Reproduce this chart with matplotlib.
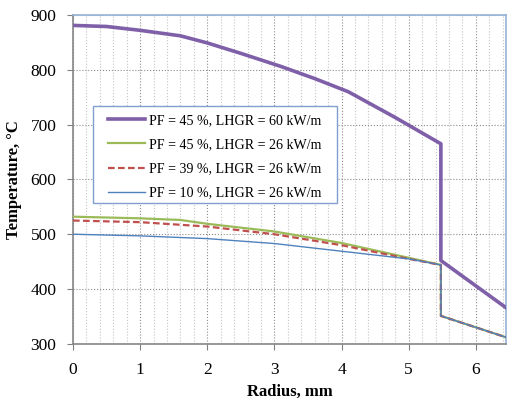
import numpy as np
import matplotlib
matplotlib.use('Agg')
import matplotlib.pyplot as plt
from matplotlib.patches import Rectangle
from matplotlib.ticker import MultipleLocator

plt.rcParams['font.family'] = 'Liberation Serif'

# PF = 45 %, LHGR = 60 kW/m
r_60 = [0, 0.5, 1.0, 1.6, 2.0, 2.5, 3.1, 3.6, 4.1, 4.8, 5.48, 5.48, 6.45]
t_60 = [881, 879, 872, 862, 849, 830, 806, 784, 760, 713, 665, 452, 366]

# PF = 45 %, LHGR = 26 kW/m
r_45 = [0, 1.0, 1.6, 2.0, 3.0, 4.0, 5.0, 5.48, 5.48, 6.45]
t_45 = [532, 529, 526, 519, 505, 484, 457, 444, 351, 312]

# PF = 39 %, LHGR = 26 kW/m
r_39 = [0, 1.0, 2.0, 3.0, 4.0, 5.0, 5.48, 5.48, 6.45]
t_39 = [525, 522, 514, 500, 480, 455, 444, 351, 312]

# PF = 10 %, LHGR = 26 kW/m
r_10 = [0, 1.0, 2.0, 3.0, 4.0, 5.0, 5.48, 5.48, 6.45]
t_10 = [500, 497, 492, 483, 469, 455, 444, 351, 312]

labels = ['PF = 45 %, LHGR = 60 kW/m', 'PF = 45 %, LHGR = 26 kW/m',
          'PF = 39 %, LHGR = 26 kW/m', 'PF = 10 %, LHGR = 26 kW/m']

fig = plt.figure(figsize=(5.07, 4.05), dpi=100)
ax = fig.add_axes([0.144, 0.151, 0.854, 0.812])

ax.plot(r_60, t_60, color='#7F60A8', lw=2.6, label=labels[0], zorder=5)
ax.plot(r_45, t_45, color='#9BBB59', lw=1.6, label=labels[1], zorder=4)
ax.plot(r_39, t_39, color='#C0504D', lw=1.6, ls=(0, (3, 1.5)), label=labels[2], zorder=4)
ax.plot(r_10, t_10, color='#4F81BD', lw=1.0, label=labels[3], zorder=4)

ax.set_xlim(0, 6.45)
ax.set_ylim(300, 900)
ax.xaxis.set_major_locator(MultipleLocator(1))
ax.xaxis.set_minor_locator(MultipleLocator(0.2))
ax.yaxis.set_major_locator(MultipleLocator(100))
ax.grid(which='major', color='#8c8c8c', ls=':', lw=0.8)
ax.grid(which='minor', axis='x', color='#c4c4c4', ls=':', lw=0.8)
ax.set_axisbelow(True)

ax.tick_params(which='major', direction='out', length=4, color='#808080', labelsize=12.5)
ax.tick_params(which='minor', length=0)
ax.tick_params(axis='x', pad=9)
ax.tick_params(axis='y', pad=8)
for s in ['left', 'bottom']:
    ax.spines[s].set_color('#868686')
    ax.spines[s].set_linewidth(1.2)
for s in ['top', 'right']:
    ax.spines[s].set_color('#95B3D7')
    ax.spines[s].set_linewidth(1.2)

ax.set_xlabel('Radius, mm', fontsize=12, fontweight='bold', labelpad=4)
ax.set_ylabel('Temperature, °C', fontsize=12, fontweight='bold', labelpad=6)

# legend box (Excel style, wider padding on the left)
ax.add_patch(Rectangle((0.046, 0.429), 0.564, 0.294, transform=ax.transAxes,
                       facecolor='white', edgecolor='#7F9FCF', lw=1.0, zorder=6))
leg = ax.legend(loc='upper left', bbox_to_anchor=(0.081, 0.699), fontsize=10.1,
                handlelength=2.6, handletextpad=0.3, labelspacing=0.8,
                borderpad=0, borderaxespad=0, frameon=False)
leg.set_zorder(7)

fig.savefig('out.png', dpi=100)
